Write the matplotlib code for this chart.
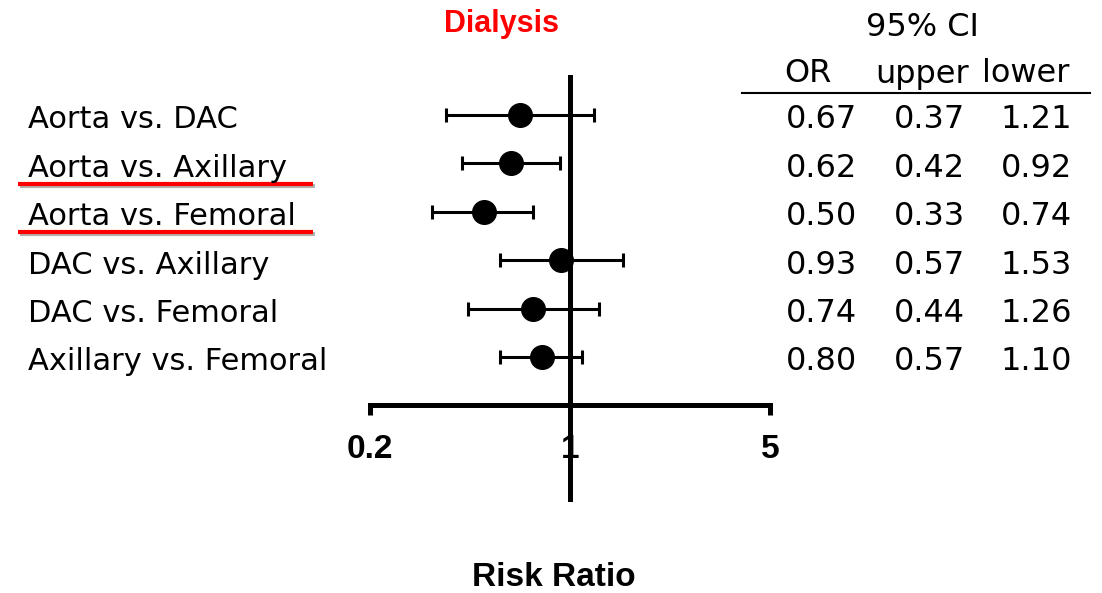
import matplotlib
matplotlib.use("Agg")
import matplotlib.pyplot as plt
import matplotlib.transforms as mtransforms
import matplotlib.patheffects as pe
from matplotlib.lines import Line2D
from matplotlib.ticker import NullLocator

# donnees
comparaisons = ["Aorta vs. DAC", "Aorta vs. Axillary", "Aorta vs. Femoral",
                "DAC vs. Axillary", "DAC vs. Femoral", "Axillary vs. Femoral"]
odds_ratio = [0.67, 0.62, 0.50, 0.93, 0.74, 0.80]
ci_upper = [0.37, 0.42, 0.33, 0.57, 0.44, 0.57]   # colonne "upper" (borne basse en fait)
ci_lower = [1.21, 0.92, 0.74, 1.53, 1.26, 1.10]   # colonne "lower"
soulignes = ["Aorta vs. Axillary", "Aorta vs. Femoral"]
graduations = [0.2, 1, 5]
etiquettes_x = ["0.2", "1", "5"]

W, H = 1102, 593
fig = plt.figure(figsize=(W / 100, H / 100), dpi=100)
ax = fig.add_axes([370 / W, 1 - 502 / H, 400 / W, 427 / H])

rangs = list(range(1, len(comparaisons) + 1))
err_bas = [o - u for o, u in zip(odds_ratio, ci_upper)]
err_haut = [l - o for o, l in zip(odds_ratio, ci_lower)]

ax.set_xscale("log")
ax.set_xlim(0.2, 5)
ax.set_ylim(9, 0.17)

ax.errorbar(odds_ratio, rangs, xerr=[err_bas, err_haut], fmt="o", color="black",
            ms=17, elinewidth=2.2, capsize=5, capthick=2.2, zorder=4)
ax.axvline(1, color="black", lw=3.6, zorder=3)

# axe horizontal
for s in ["left", "top", "right"]:
    ax.spines[s].set_visible(False)
ax.spines["bottom"].set_position(("data", 7))
ax.spines["bottom"].set_bounds(0.2, 5)
ax.spines["bottom"].set_linewidth(3.6)
ax.set_xticks(graduations, etiquettes_x)
ax.xaxis.set_minor_locator(NullLocator())
ax.tick_params(axis="x", length=7, width=3.6, direction="out", pad=14, labelsize=24)
for lbl in ax.get_xticklabels():
    lbl.set_fontweight("bold")
    lbl.set_family("Liberation Sans")
ax.set_yticks([])
ax.patch.set_alpha(0)

# libelles des lignes
decal = 0.1  # le texte est un peu plus bas que les points
trans = mtransforms.blended_transform_factory(fig.transFigure, ax.transData)
for r, nom in zip(rangs, comparaisons):
    ax.text(28 / W, r + decal, nom, transform=trans, ha="left", va="center",
            fontsize=22, family="DejaVu Sans")
    if nom in soulignes:
        ax.plot([18 / W, 313 / W], [r + 0.42, r + 0.42], transform=trans, color="red",
                lw=3, clip_on=False, solid_capstyle="butt",
                path_effects=[pe.SimpleLineShadow(offset=(1.5, -1.5), alpha=0.3), pe.Normal()])

# tableau OR / IC
for r, o, u, l in zip(rangs, odds_ratio, ci_upper, ci_lower):
    for x, v in zip([857, 965, 1072], [o, u, l]):
        ax.text(x / W, r + decal, f"{v:.2f}", transform=trans, ha="right", va="center",
                fontsize=23, family="DejaVu Sans")

fig.text(922 / W, 1 - 27 / H, "95% CI", ha="center", va="center", fontsize=23, family="DejaVu Sans")
fig.text(808 / W, 1 - 74 / H, "OR", ha="center", va="center", fontsize=23, family="DejaVu Sans")
fig.text(922 / W, 1 - 74 / H, "upper", ha="center", va="center", fontsize=23, family="DejaVu Sans")
fig.text(1026 / W, 1 - 74 / H, "lower", ha="center", va="center", fontsize=23, family="DejaVu Sans")
fig.add_artist(Line2D([742 / W, 1090 / W], [1 - 93 / H, 1 - 93 / H], color="black", lw=1.5))

fig.text(502 / W, 1 - 24 / H, "Dialysis", ha="center", va="center", fontsize=22,
         fontweight="bold", color="#ff0000", family="Liberation Sans")
fig.text(554 / W, 1 - 577 / H, "Risk Ratio", ha="center", va="center", fontsize=24,
         fontweight="bold", family="Liberation Sans")

fig.savefig("out.png", dpi=100, facecolor="white")
